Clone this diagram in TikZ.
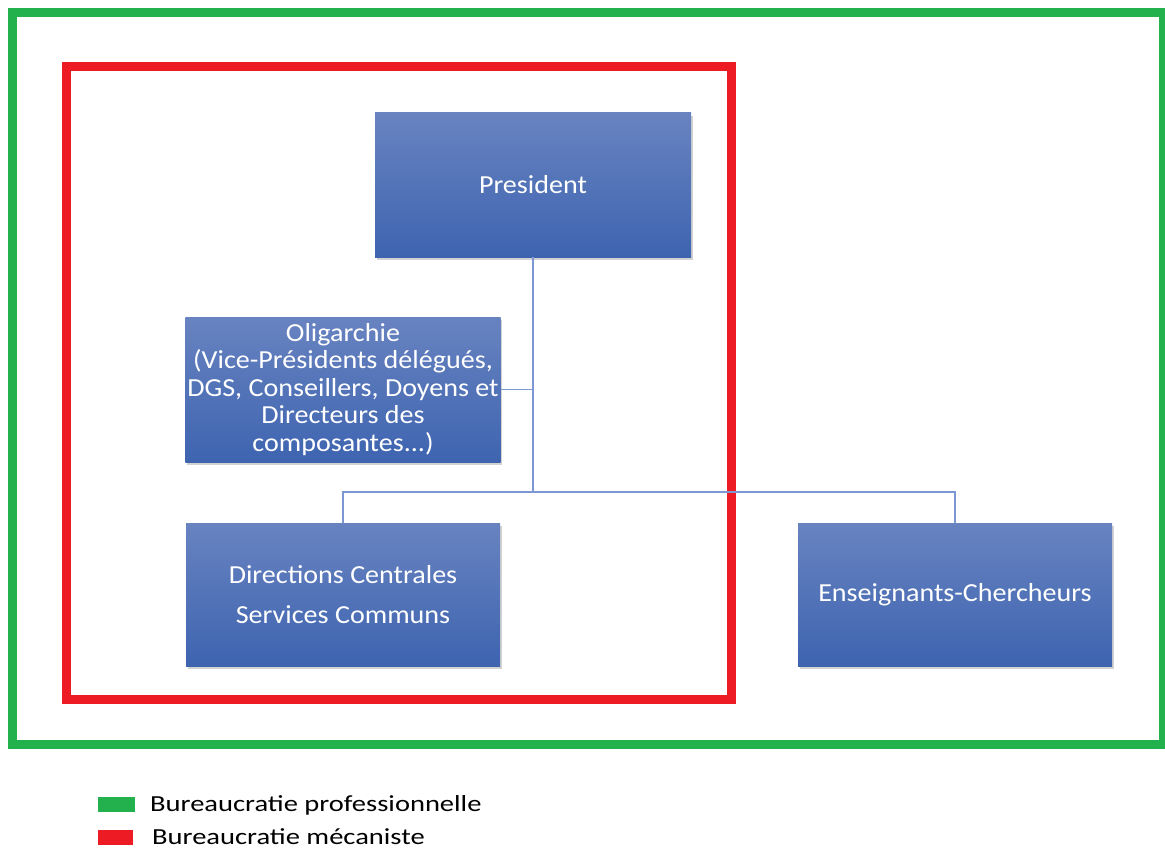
\documentclass[tikz,border=0pt]{standalone}
\usepackage{fontspec}
\setmainfont{Carlito}
\newfontfamily\boxfont[FakeStretch=1.08]{Carlito}
\newfontfamily\legfont[FakeStretch=1.24]{Carlito}
\usetikzlibrary{shadows}
\definecolor{gframe}{RGB}{34,177,76}
\definecolor{rframe}{RGB}{237,28,36}
\definecolor{btop}{RGB}{104,131,192}
\definecolor{bbot}{RGB}{62,100,176}
\definecolor{conn}{RGB}{125,150,212}
\begin{document}
\begin{tikzpicture}[x=1pt,y=-1pt,
  orgbox/.style={rectangle, top color=btop, bottom color=bbot, draw=none,
    text=white, align=center, font=\boxfont\fontsize{26}{27.5}\selectfont,
    minimum width=314pt, minimum height=144pt, inner sep=2pt,
    drop shadow={opacity=0.35, shadow xshift=1.5pt, shadow yshift=-3pt}},
  link/.style={draw=conn, line width=1.8pt},
  frame/.style={line width=9pt},
  swatch/.style={rectangle, minimum width=36pt, minimum height=15pt, inner sep=0pt},
  legtext/.style={anchor=west, text=black, font=\legfont\fontsize{23}{24}\selectfont, inner sep=0pt}
]
\useasboundingbox (0,0) rectangle (1165,848);
\fill[white] (0,0) rectangle (1165,848);
% frames
\draw[frame, draw=gframe] (12.5,12.5) rectangle (1163.5,744.5);
\draw[frame, draw=rframe] (66.5,66.5) rectangle (731.5,699.5);
% boxes
\node[orgbox, minimum width=316pt] (pres) at (533,185) {President};
\node[orgbox, minimum height=145pt] (olig) at (343,389.5) {Oligarchie\\(Vice-Présidents délégués,\\DGS, Conseillers, Doyens et\\Directeurs des\\composantes...)};
\node[orgbox, minimum height=143pt, font=\boxfont\fontsize{26}{40}\selectfont] (dir) at (343,594.5) {Directions Centrales\\Services Communs};
\node[orgbox, minimum height=143pt] (ens) at (955,594.5) {Enseignants-Chercheurs};
% connectors
\coordinate (j) at (533,492);
\draw[link] (pres.south) -- (j);
\draw[link] (olig.east) -- (olig.east -| j);
\draw[link] (j) -| (dir.north);
\draw[link] (j) -| (ens.north);
% legend
\node[swatch, fill=gframe, minimum width=37pt] (lg) at (116.5,804.5) {};
\node[legtext] (lgt) at (150,805) {Bureaucratie professionnelle};
\node[swatch, fill=rframe, minimum width=35pt] (lr) at (115.5,837.5) {};
\node[legtext] (lrt) at (152,836.5) {Bureaucratie mécaniste};
\end{tikzpicture}
\end{document}
